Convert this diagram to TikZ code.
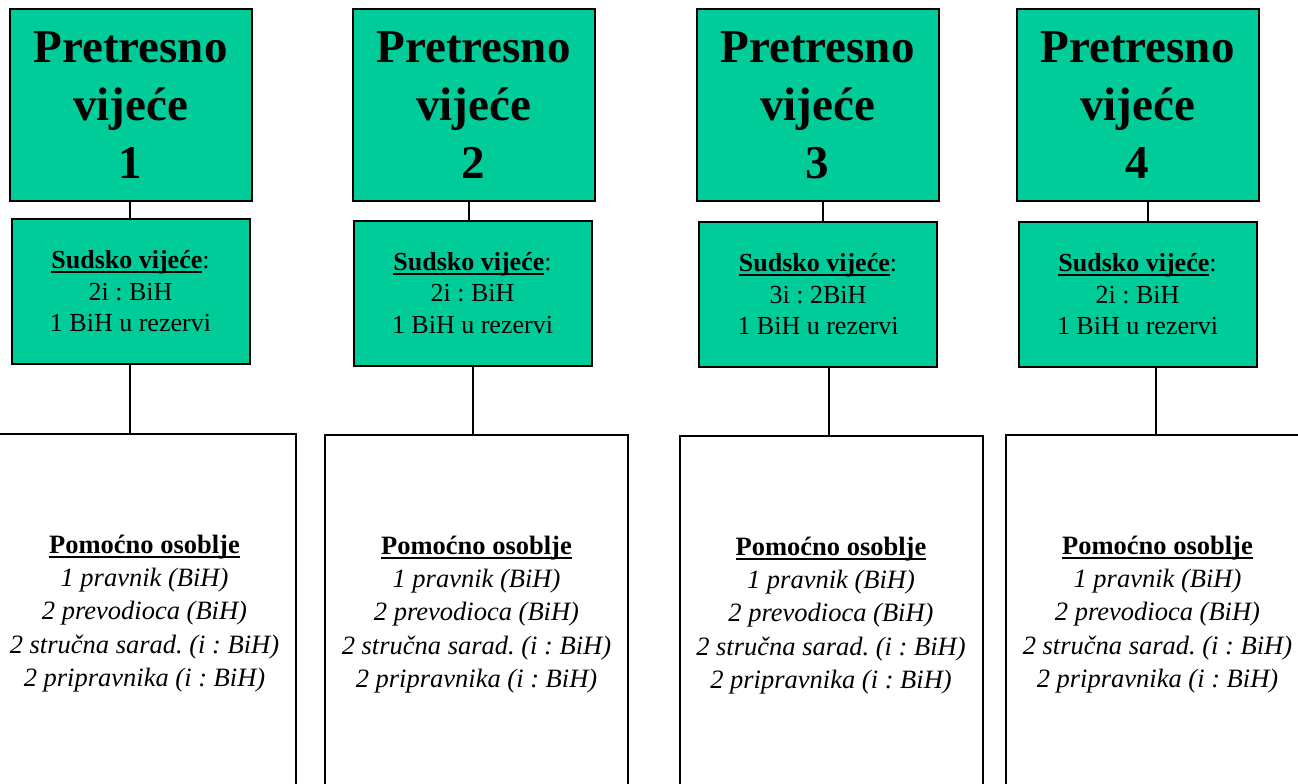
\documentclass[tikz,border=0pt]{standalone}
\usepackage{fontspec}
\setmainfont{Liberation Serif}
\frenchspacing
\definecolor{teal}{RGB}{0,204,153}
\newcommand\myul[1]{\setbox0\hbox{#1}\rlap{\rule[-4.5pt]{\wd0}{2pt}}\box0}
\tikzset{
  titlebox/.style={draw=black, line width=2pt, fill=teal, inner sep=0pt,
    minimum width=242pt, minimum height=192pt, align=center,
    font=\fontsize{47}{58}\selectfont\bfseries},
  judgebox/.style={draw=black, line width=2pt, fill=teal, inner sep=0pt,
    minimum width=238pt, minimum height=145pt, align=center,
    font=\fontsize{26}{31.5}\selectfont},
  staffbox/.style={draw=black, line width=2pt, fill=white, inner sep=0pt,
    minimum width=303pt, minimum height=360pt, align=center,
    font=\fontsize{26.5}{33.4}\selectfont},
  link/.style={draw=black, line width=2pt}
}
\newcommand\judgetext[1]{\myul{\textbf{Sudsko vijeće}}:\\#1\\1 BiH u rezervi}
\newcommand\stafftext{\myul{\textbf{Pomoćno osoblje}}\\\itshape 1 pravnik (BiH)\\\itshape 2 prevodioca (BiH)\\\itshape 2 stručna sarad. (i : BiH)\\\itshape 2 pripravnika (i : BiH)}
\begin{document}
\begin{tikzpicture}[x=1pt,y=-1pt]
\useasboundingbox (0,0) rectangle (1298,784);
\fill[white] (0,0) rectangle (1298,784);
% top boxes
\node[titlebox] (t1) at (130.5,105) {Pretresno\\vijeće\\1};
\node[titlebox] (t2) at (473.5,105) {Pretresno\\vijeće\\2};
\node[titlebox] (t3) at (817.5,105) {Pretresno\\vijeće\\3};
\node[titlebox] (t4) at (1137.5,105) {Pretresno\\vijeće\\4};
% judge boxes
\node[judgebox] (s1) at (130.5,291.5) {\judgetext{2i : BiH}};
\node[judgebox] (s2) at (472.5,293) {\judgetext{2i : BiH}};
\node[judgebox] (s3) at (818,294.5) {\judgetext{3i : 2BiH}};
\node[judgebox] (s4) at (1137.5,294.5) {\judgetext{2i : BiH}};
% staff boxes
\node[staffbox] (p1) at (144.5,613.5) {\stafftext};
\node[staffbox] (p2) at (476.5,614.5) {\stafftext};
\node[staffbox] (p3) at (831,615.5) {\stafftext};
\node[staffbox] (p4) at (1157.5,614.5) {\stafftext};
% connector columns
\coordinate (a1) at (130,0);
\coordinate (a2) at (469,0);
\coordinate (a3) at (823,0);
\coordinate (a4) at (1148,0);
\coordinate (b1) at (130,0);
\coordinate (b2) at (473,0);
\coordinate (b3) at (829,0);
\coordinate (b4) at (1156,0);
\foreach \i in {1,2,3,4}{
  \draw[link] (t\i.south -| a\i) -- (s\i.north -| a\i);
  \draw[link] (s\i.south -| b\i) -- (p\i.north -| b\i);
}
\end{tikzpicture}
\end{document}
